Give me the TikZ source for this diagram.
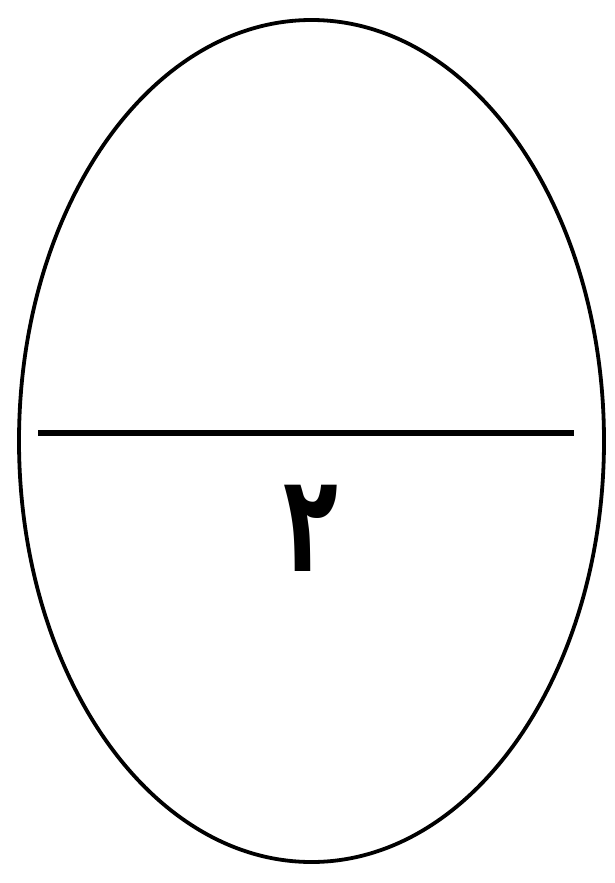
\documentclass[tikz,border=0pt]{standalone}
\usepackage{fontspec}
\usetikzlibrary{shapes.geometric}
\newfontfamily\arabicfont[Script=Arabic]{DejaVu Sans}
\TeXXeTstate=1
\begin{document}
\begin{tikzpicture}[x=1pt,y=-1pt,
  outline/.style={draw=black,line width=3.8pt},
  divider/.style={draw=black,line width=6.5pt},
  numeral/.style={inner sep=0pt,xscale=0.66,font=\arabicfont\bfseries\fontsize{136}{136}\selectfont}]
\useasboundingbox[fill=white] (0,0) rectangle (614,883);
\node[outline,ellipse,minimum width=585,minimum height=842,inner sep=0pt] (egg) at (311.5,441) {};
\coordinate (lft) at (38,433);
\coordinate (rgt) at (574,433);
\draw[divider] (lft) -- (rgt);
\node[numeral] (two) at (311,528) {\beginR ٢\endR};
\end{tikzpicture}
\end{document}
